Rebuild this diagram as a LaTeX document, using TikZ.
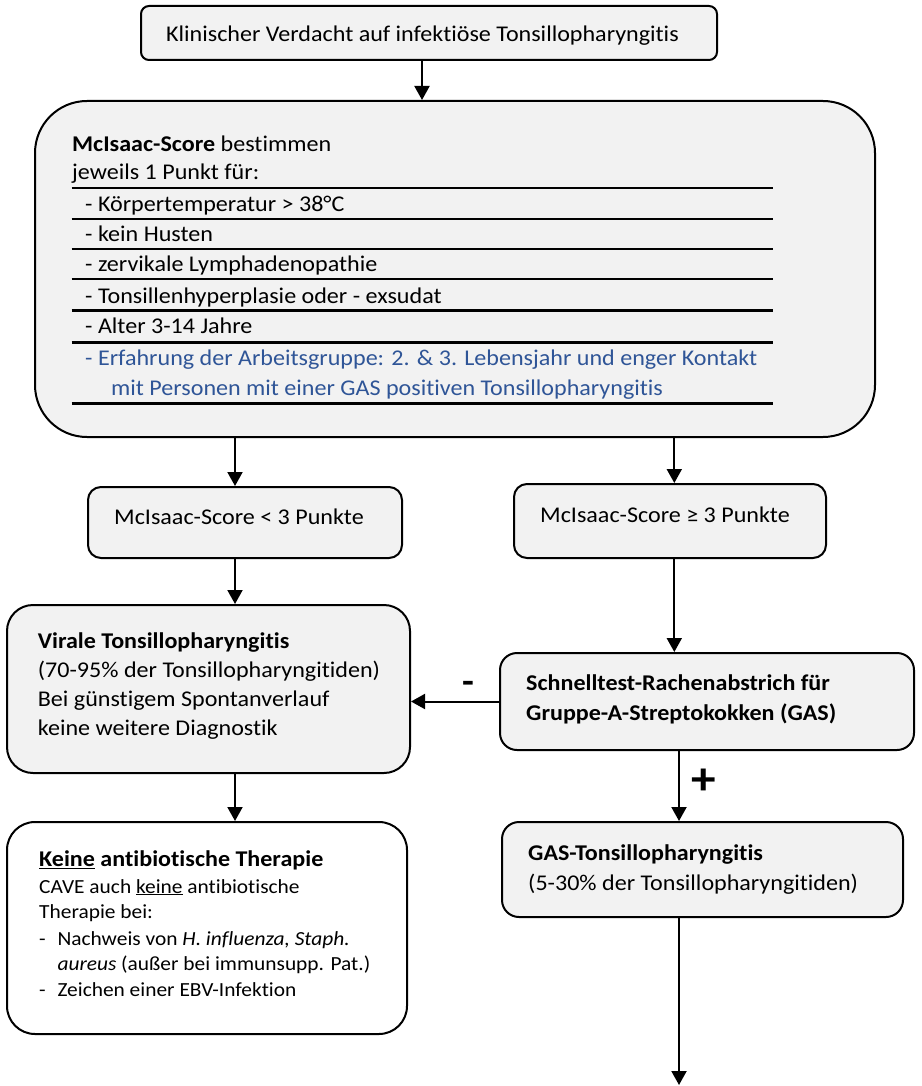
\documentclass[tikz,border=0pt]{standalone}
\usepackage{fontspec}
\setmainfont{Carlito}[FakeStretch=1.07,Ligatures={NoCommon}]
\usetikzlibrary{arrows.meta}
\definecolor{boxgray}{HTML}{F2F2F2}
\definecolor{noteblue}{HTML}{2F5597}

\begin{document}
\begin{tikzpicture}[x=1pt,y=-1pt,
  box/.style={draw=black,line width=2pt,fill=boxgray,inner sep=0pt},
  txt/.style={anchor=base west,inner sep=0pt,font=\fontsize{22.5}{27}\selectfont},
  smalltxt/.style={anchor=base west,inner sep=0pt,font=\fontsize{20}{24}\selectfont},
  arr/.style={line width=2pt,-{Triangle[length=14pt,width=15pt]}},
  thinrule/.style={line width=2pt},
  thickrule/.style={line width=3pt},
  sign/.style={inner sep=0pt}
]
\useasboundingbox (0,0) rectangle (921,1086);

% ---- boxes ----
\node[box,rounded corners=8pt,minimum width=576pt,minimum height=54pt] (top) at (429,33) {};
\node[box,rounded corners=52pt,minimum width=840pt,minimum height=336pt] (mc) at (455,269) {};
\node[box,rounded corners=13pt,minimum width=314pt,minimum height=71pt] (lt) at (245,522.5) {};
\node[box,rounded corners=13pt,minimum width=312pt,minimum height=74pt] (ge) at (670,521) {};
\node[box,rounded corners=26pt,minimum width=403pt,minimum height=168pt] (vir) at (208.5,689) {};
\node[box,rounded corners=17pt,minimum width=414pt,minimum height=97pt] (sch) at (707,701.5) {};
\node[box,fill=white,rounded corners=28pt,minimum width=400pt,minimum height=212pt] (kei) at (207,928) {};
\node[box,rounded corners=17pt,minimum width=401pt,minimum height=95pt] (gas) at (702.5,869.5) {};

% ---- texts ----
\node[txt] (tTop) at (166,41.7) {Klinischer Verdacht auf infektiöse Tonsillopharyngitis};

\node[txt] (m1) at (72,151.7) {\textbf{McIsaac-Score} bestimmen};
\node[txt] (m2) at (72,180) {jeweils 1 Punkt für:};
\node[txt] (m3) at (85,211.7) {- Körpertemperatur > 38°C};
\node[txt] (m4) at (85,241.7) {- kein Husten};
\node[txt] (m5) at (85,271.7) {- zervikale Lymphadenopathie};
\node[txt] (m6) at (85,303) {- Tonsillenhyperplasie oder - exsudat};
\node[txt] (m7) at (85,333) {- Alter 3-14 Jahre};
\node[txt,text=noteblue] (m8) at (85,365) {- Erfahrung der Arbeitsgruppe: 2. \& 3. Lebensjahr und enger Kontakt};
\node[txt,text=noteblue] (m9) at (111,395) {mit Personen mit einer GAS positiven Tonsillopharyngitis};

\foreach \yy in {187.7,219,249,279.3}
  \draw[thinrule] (71.7,\yy) -- (772.7,\yy);
\foreach \yy in {310.7,342.3,403.3}
  \draw[thickrule] (71.7,\yy) -- (772.7,\yy);

\node[txt] (tLt) at (114,524) {McIsaac-Score < 3 Punkte};
\node[txt] (tGe) at (540,522) {McIsaac-Score ≥ 3 Punkte};

\node[txt] (v1) at (37.7,648) {\textbf{Virale Tonsillopharyngitis}};
\node[txt] (v2) at (37.7,677) {(70-95\% der Tonsillopharyngitiden)};
\node[txt] (v3) at (37.7,706) {Bei günstigem Spontanverlauf};
\node[txt] (v4) at (37.7,735) {keine weitere Diagnostik};

\node[txt] (s1) at (526,690) {\textbf{Schnelltest-Rachenabstrich für}};
\node[txt] (s2) at (526,720) {\textbf{Gruppe-A-Streptokokken (GAS)}};

\node[txt] (g1) at (528,860) {\textbf{GAS-Tonsillopharyngitis}};
\node[txt] (g2) at (528,890) {(5-30\% der Tonsillopharyngitiden)};

\node[txt] (k1) at (39,866.7) {\textbf{\underline{Keine} antibiotische Therapie}};
\node[smalltxt] (k2) at (39,893) {CAVE auch \underline{keine} antibiotische};
\node[smalltxt] (k3) at (39,918) {Therapie bei:};
\node[smalltxt] (k4d) at (39,945) {-};
\node[smalltxt] (k4) at (57.3,945) {Nachweis von \textit{H. influenza, Staph.}};
\node[smalltxt] (k5) at (57.3,970.7) {\textit{aureus} (außer bei immunsupp. Pat.)};
\node[smalltxt] (k6d) at (39,996.7) {-};
\node[smalltxt] (k6) at (57.3,996.7) {Zeichen einer EBV-Infektion};

% ---- connector columns ----
\coordinate (cx0) at (422,0);
\coordinate (cxl) at (235,0);
\coordinate (cxr) at (674.3,0);
\coordinate (cxp) at (679,0);
\coordinate (endpt) at (679,1085);

% ---- connectors ----
\draw[arr] (top.south -| cx0) -- (mc.north -| cx0);
\draw[arr] (mc.south -| cxl) -- (lt.north -| cxl);
\draw[arr] (mc.south -| cxr) -- (ge.north -| cxr);
\draw[arr] (lt.south -| cxl) -- (vir.north -| cxl);
\draw[arr] (ge.south -| cxr) -- (sch.north -| cxr);
\draw[arr] (vir.south -| cxl) -- (kei.north -| cxl);
\draw[arr] (sch.west) -- (sch.west -| vir.east);
\draw[arr] (sch.south -| cxp) -- (gas.north -| cxp);
\draw[arr] (gas.south -| cxp) -- (endpt);

\node[sign,font=\fontsize{36}{36}\selectfont\bfseries] (minus) at (468,687) {-};
\node[sign,font=\fontsize{46}{46}\selectfont\bfseries] (plus) at (704,782) {+};
\end{tikzpicture}
\end{document}
